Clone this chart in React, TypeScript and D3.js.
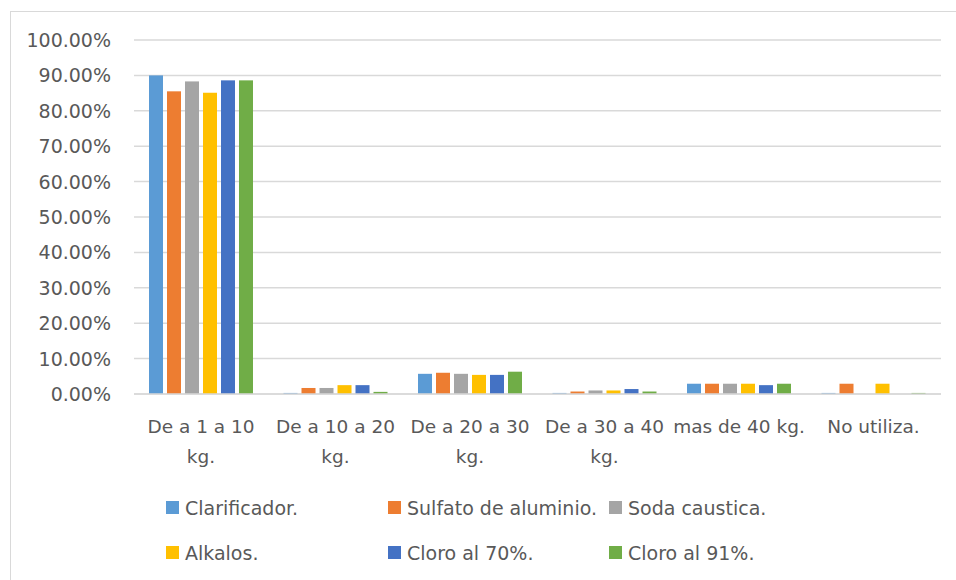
import React from "react";
import * as d3 from "d3";

const categories = [
  ["De a 1 a 10", "kg."],
  ["De a 10 a 20", "kg."],
  ["De a 20 a 30", "kg."],
  ["De a 30 a 40", "kg."],
  ["mas de 40 kg."],
  ["No utiliza."],
];

const seriesNames = [
  "Clarificador.",
  "Sulfato de aluminio.",
  "Soda caustica.",
  "Alkalos.",
  "Cloro al 70%.",
  "Cloro al 91%.",
];

const colors = ["#5B9BD5", "#ED7D31", "#A5A5A5", "#FFC000", "#4472C4", "#70AD47"];

// values in percent, one array per series, in category order
const clarificador = [90.0, 0.3, 5.7, 0.3, 2.9, 0.3];
const sulfato = [85.5, 1.7, 6.0, 0.7, 2.9, 2.9];
const soda = [88.3, 1.7, 5.7, 1.0, 2.9, 0];
const alkalos = [85.1, 2.5, 5.4, 1.0, 2.9, 2.9];
const cloro70 = [88.6, 2.5, 5.4, 1.4, 2.5, 0];
const cloro91 = [88.6, 0.6, 6.3, 0.7, 2.9, 0.3];

const seriesValues = [clarificador, sulfato, soda, alkalos, cloro70, cloro91];

const yTicks = [0, 10, 20, 30, 40, 50, 60, 70, 80, 90, 100];

export default function App() {
  const svgRef = React.useRef<SVGSVGElement | null>(null);

  React.useEffect(() => {
    const width = 956;
    const height = 580;
    const font = "'DejaVu Sans', sans-serif";
    const textColor = "#595959";

    const svg = d3.select(svgRef.current).attr("width", width).attr("height", height);
    svg.selectAll("*").remove();

    // chart border
    svg
      .append("rect")
      .attr("x", 10.5)
      .attr("y", 11.5)
      .attr("width", 1000)
      .attr("height", 1000)
      .attr("fill", "white")
      .attr("stroke", "#d9d9d9");

    // scales
    const x0 = d3
      .scaleBand<number>()
      .domain(categories.map((_, i) => i))
      .range([133.75, 940.75]);
    const x1 = d3
      .scaleBand<number>()
      .domain(seriesNames.map((_, i) => i))
      .range([15.25, 15.25 + 104])
      .paddingInner(4 / 18);
    const y = d3.scaleLinear().domain([0, 100]).range([394, 40]);

    // gridlines
    svg
      .append("g")
      .selectAll("line")
      .data(yTicks)
      .enter()
      .append("line")
      .attr("x1", 134)
      .attr("x2", 941)
      .attr("y1", (d) => y(d))
      .attr("y2", (d) => y(d))
      .attr("stroke", "#d9d9d9")
      .attr("stroke-width", 1.5);

    // y labels
    svg
      .append("g")
      .selectAll("text")
      .data(yTicks)
      .enter()
      .append("text")
      .attr("x", 111)
      .attr("y", (d) => y(d) + 7)
      .attr("text-anchor", "end")
      .attr("font-family", font)
      .attr("font-size", 19)
      .attr("fill", textColor)
      .text((d) => d.toFixed(2) + "%");

    // bars
    const groups = svg
      .append("g")
      .selectAll("g")
      .data(categories.map((_, i) => i))
      .enter()
      .append("g")
      .attr("transform", (d) => `translate(${x0(d)},0)`);

    groups
      .selectAll("rect")
      .data((c) => seriesValues.map((vals, s) => ({ s, v: vals[c] })))
      .enter()
      .append("rect")
      .attr("x", (d) => x1(d.s) as number)
      .attr("width", x1.bandwidth())
      .attr("y", (d) => y(d.v))
      .attr("height", (d) => y(0) - y(d.v))
      .attr("fill", (d) => colors[d.s]);

    // baseline on top of bars
    svg
      .append("line")
      .attr("x1", 134)
      .attr("x2", 941)
      .attr("y1", y(0))
      .attr("y2", y(0))
      .attr("stroke", "#d9d9d9")
      .attr("stroke-width", 1.5);

    // category labels
    const catText = svg
      .append("g")
      .selectAll("text")
      .data(categories)
      .enter()
      .append("text")
      .attr("text-anchor", "middle")
      .attr("font-family", font)
      .attr("font-size", 18.5)
      .attr("fill", textColor)
      .attr("x", (_, i) => (x0(i) as number) + x0.bandwidth() / 2)
      .attr("y", 433);
    catText
      .selectAll("tspan")
      .data((d) => d)
      .enter()
      .append("tspan")
      .attr("x", function () {
        return (this.parentNode as SVGTextElement).getAttribute("x");
      })
      .attr("dy", (_, i) => (i === 0 ? 0 : 30))
      .text((d) => d);

    // legend
    const legendX = [166, 388, 609];
    const legendY = [508, 553];
    const legend = svg
      .append("g")
      .selectAll("g")
      .data(seriesNames)
      .enter()
      .append("g")
      .attr("transform", (_, i) => `translate(${legendX[i % 3]},${legendY[Math.floor(i / 3)]})`);
    legend
      .append("rect")
      .attr("x", 0)
      .attr("y", -7)
      .attr("width", 13)
      .attr("height", 13)
      .attr("fill", (_, i) => colors[i]);
    legend
      .append("text")
      .attr("x", 19)
      .attr("y", 7)
      .attr("font-family", font)
      .attr("font-size", 19)
      .attr("fill", textColor)
      .text((d) => d);
  }, []);

  return <svg ref={svgRef} style={{ position: "absolute", left: 0, top: 0 }} />;
}
